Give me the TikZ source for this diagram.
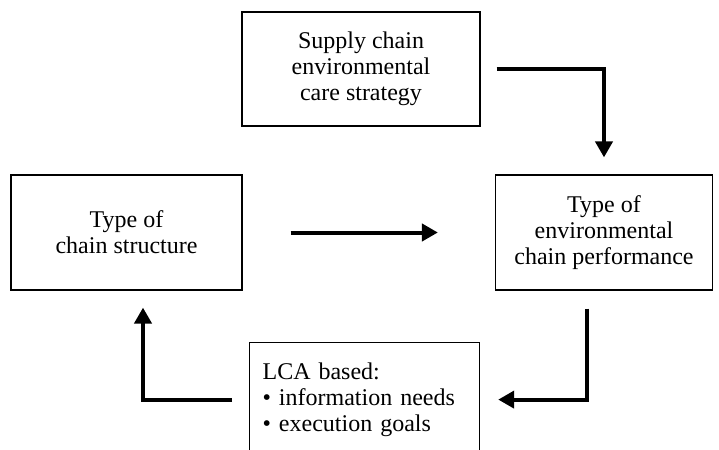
\documentclass[tikz,border=0pt]{standalone}
\usepackage{fontspec}
\setmainfont{Liberation Serif}
\usetikzlibrary{arrows.meta}
\begin{document}
\begin{tikzpicture}[x=0.5pt,y=-0.5pt,
  box/.style={draw,line width=0.6pt,align=center,minimum height=57pt,font=\fontsize{12}{13}\selectfont},
  flow/.style={line width=2pt,-{Triangle[length=8pt,width=8.5pt]}}]
\useasboundingbox (0,0) rectangle (719,450);
\clip (0,0) rectangle (719,450);
\node[box,minimum width=119pt] (supply) at (361,69) {Supply chain\\environmental\\care strategy};
\node[box,minimum width=115.5pt,minimum height=57.5pt] (struct) at (126.5,232.5) {Type of\\chain structure};
\node[box,minimum width=108.5pt,minimum height=57.5pt] (perf) at (604,232.5) {Type of\\environmental\\chain performance};
\node[box,align=left,anchor=north west,text width=102pt,inner xsep=6.5pt,minimum height=57pt] (lca) at (249,342) {LCA based:\\\textbullet{} information needs\\\textbullet{} execution goals};
\draw[flow] ([xshift=8pt]supply.east) -| ([yshift=8.5pt]perf.north);
\draw[flow] ([xshift=24pt]struct.east) -- ([xshift=-28.5pt]perf.west);
\draw[flow] ([shift={(-8.5pt,-9pt)}]perf.south) |- ([xshift=9pt]lca.east);
\draw[flow] ([xshift=-8.5pt]lca.west) -| ([shift={(8.25pt,-8.5pt)}]struct.south);
\end{tikzpicture}
\end{document}
